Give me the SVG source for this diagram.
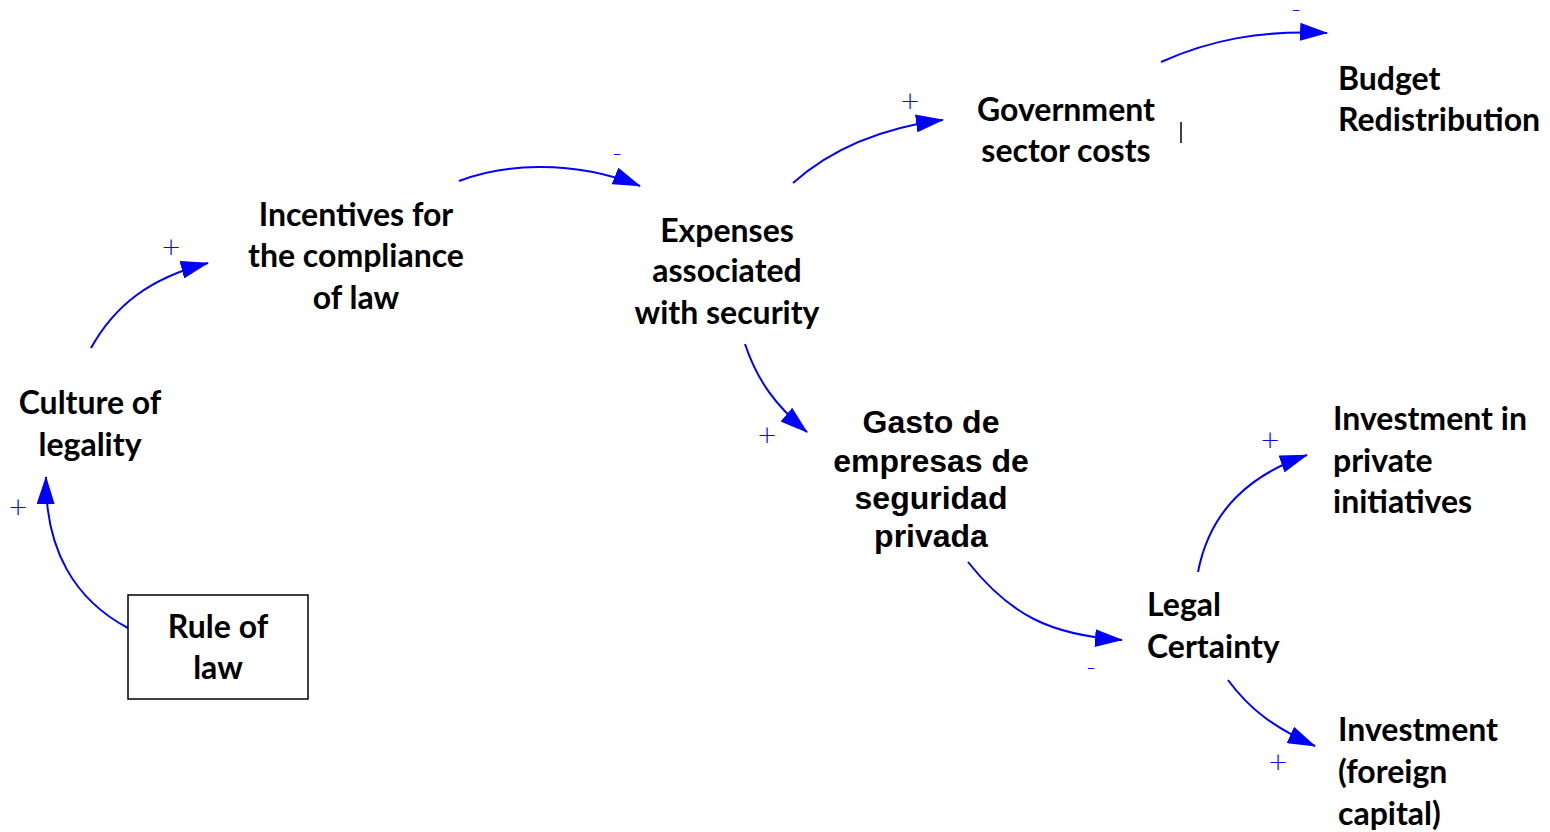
<svg xmlns="http://www.w3.org/2000/svg" width="1550" height="832" viewBox="0 0 1550 832">
<defs>
<marker id="ah" viewBox="0 0 28 18" refX="27" refY="9" markerWidth="28" markerHeight="18" markerUnits="userSpaceOnUse" orient="auto">
<path d="M0,0 L28,9 L0,18 z" fill="#0000FF"/>
</marker>
</defs>
<style>
.lbl{font-family:Lato,"Liberation Sans",sans-serif;font-weight:700;font-size:32px;fill:#000}
.ar{font-family:"Liberation Sans",Arial,sans-serif;font-weight:700;font-size:32px;fill:#000}
.c{text-anchor:middle}
.sg{font-family:"DejaVu Sans","Liberation Sans",sans-serif;font-weight:300;font-size:24px;fill:#0000FF;text-anchor:middle}
.ln{fill:none;stroke:#0000FF;stroke-width:2;marker-end:url(#ah)}
</style>
<rect width="1550" height="832" fill="#fff"/>
<g id="connectors">
<path class="ln" d="M128,628 C75,600 45,550 46,477"/>
<path class="ln" d="M91,348 C115,305 150,278 208,263"/>
<path class="ln" d="M459,181 C500,165 570,158 640,186"/>
<path class="ln" d="M793,183 C830,150 880,128 943,120"/>
<path class="ln" d="M1161,62 C1210,40 1260,30 1327,33"/>
<path class="ln" d="M745,344 C757,380 775,405 807,432"/>
<path class="ln" d="M968,562 C1010,615 1050,635 1122,640"/>
<path class="ln" d="M1198,572 C1210,510 1250,475 1307,455"/>
<path class="ln" d="M1228,680 C1250,710 1275,728 1315,746"/>
<text class="sg" x="18" y="515">+</text>
<text class="sg" x="171" y="255">+</text>
<text class="sg" x="617" y="161">-</text>
<text class="sg" x="910" y="109">+</text>
<text class="sg" x="1296" y="17">-</text>
<text class="sg" x="767" y="443">+</text>
<text class="sg" x="1091" y="675">-</text>
<text class="sg" x="1270" y="448">+</text>
<text class="sg" x="1278" y="770">+</text>
</g>
<g id="rule-of-law">
<rect x="128" y="595" width="180" height="104" fill="#fff" stroke="#000" stroke-width="1.5"/>
<text class="lbl c" x="218" y="638">Rule of</text>
<text class="lbl c" x="218" y="679">law</text>
</g>
<g id="culture-of-legality">
<text class="lbl c" x="90" y="414">Culture of</text>
<text class="lbl c" x="90" y="456">legality</text>
</g>
<g id="incentives">
<text class="lbl c" x="356" y="226">Incentives for</text>
<text class="lbl c" x="356" y="267">the compliance</text>
<text class="lbl c" x="356" y="309">of law</text>
</g>
<g id="expenses">
<text class="lbl c" x="727" y="242">Expenses</text>
<text class="lbl c" x="727" y="282">associated</text>
<text class="lbl c" x="727" y="324">with security</text>
</g>
<g id="government">
<text class="lbl c" x="1066" y="121">Government</text>
<text class="lbl c" x="1066" y="162">sector costs</text>
<line x1="1181" y1="122" x2="1181" y2="143" stroke="#000" stroke-width="1.5"/>
</g>
<g id="budget">
<text class="lbl" x="1338" y="90">Budget</text>
<text class="lbl" x="1338" y="131">Redistribution</text>
</g>
<g id="gasto">
<text class="ar c" x="931" y="433">Gasto de</text>
<text class="ar c" x="931" y="472">empresas de</text>
<text class="ar c" x="931" y="509">seguridad</text>
<text class="ar c" x="931" y="547">privada</text>
</g>
<g id="legal-certainty">
<text class="lbl" x="1147" y="616">Legal</text>
<text class="lbl" x="1147" y="658">Certainty</text>
</g>
<g id="investment-private">
<text class="lbl" x="1333" y="430">Investment in</text>
<text class="lbl" x="1333" y="472">private</text>
<text class="lbl" x="1333" y="513">initiatives</text>
</g>
<g id="investment-foreign">
<text class="lbl" x="1338" y="741">Investment</text>
<text class="lbl" x="1338" y="783">(foreign</text>
<text class="lbl" x="1338" y="825">capital)</text>
</g>
</svg>
